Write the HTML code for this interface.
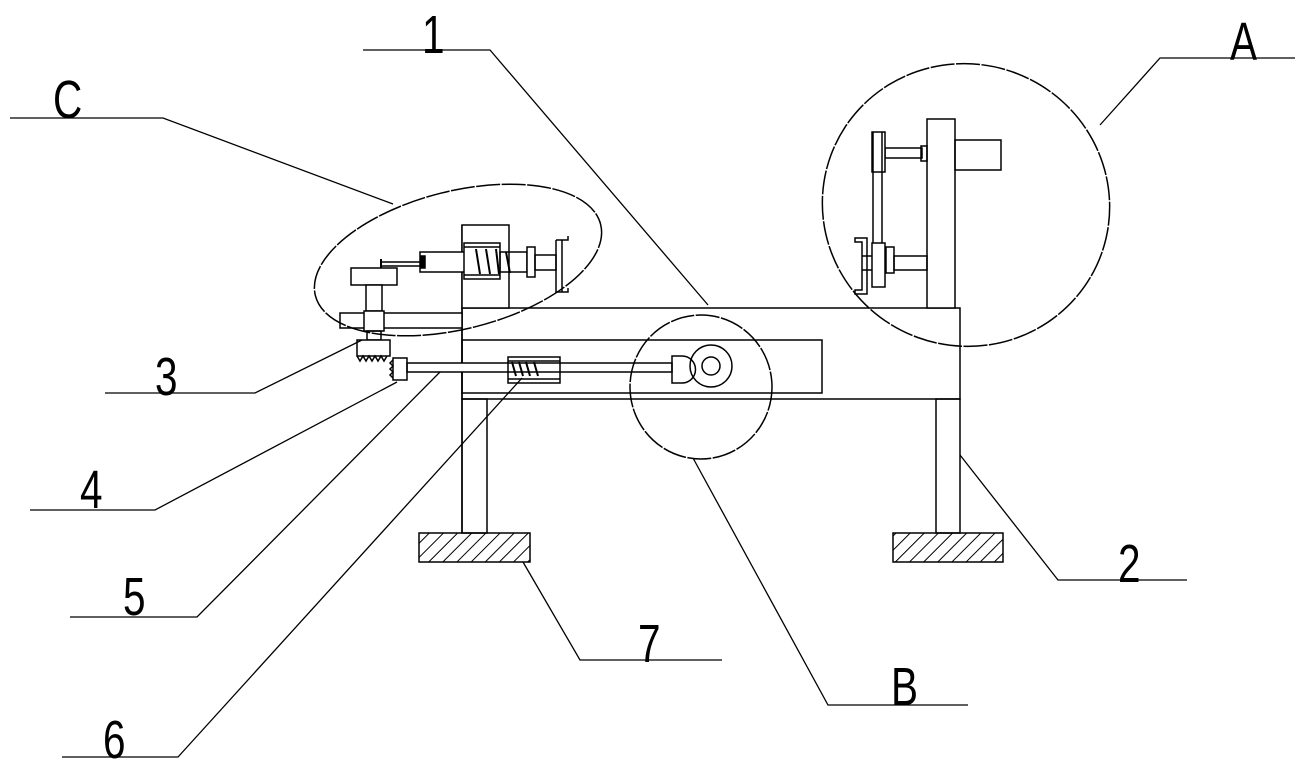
<!DOCTYPE html>
<html><head><style>html,body{margin:0;padding:0;background:#fff}svg{display:block}text{font-family:"Liberation Sans",sans-serif;font-size:54px;fill:#000}</style></head>
<body>
<svg width="1306" height="769" viewBox="0 0 1306 769" xmlns="http://www.w3.org/2000/svg">
<defs>
<pattern id="h" width="10" height="10" patternUnits="userSpaceOnUse" patternTransform="rotate(45)"><line x1="0" y1="0" x2="0" y2="10" stroke="#000" stroke-width="2"/></pattern>
</defs>
<g fill="none" stroke="#000" stroke-width="1.5">
<rect x="462" y="308" width="498" height="91" fill="#fff"/>
<rect x="462" y="340" width="360" height="53"/>
<line x1="462" y1="225" x2="462" y2="533"/>
<rect x="462" y="399" width="25" height="134"/>
<rect x="936" y="399" width="24" height="134"/>
<rect x="419" y="533" width="111" height="29" fill="url(#h)"/>
<rect x="893" y="533" width="110" height="29" fill="url(#h)"/>
<rect x="407" y="363" width="265" height="9" fill="#fff"/>
<rect x="508" y="357" width="52" height="26"/>
<line x1="508" y1="361" x2="560" y2="361"/><line x1="508" y1="379" x2="560" y2="379"/>
<path d="M512 362l4 14M519 362l4 14M526 362l4 14M534 362l4 14" stroke-width="2"/>
<path d="M672 356h10a10 10 0 0 1 0 27h-10z"/>
<circle cx="711" cy="366" r="21"/><circle cx="711" cy="366" r="9"/>
<rect x="393" y="358" width="14" height="22"/>
<rect x="462" y="225" width="47" height="83" fill="#fff"/>
<rect x="420" y="252" width="47" height="20" fill="#fff"/>
<rect x="421" y="256" width="4" height="12" fill="#000"/>
<rect x="464" y="243" width="36" height="36" fill="#fff"/>
<line x1="464" y1="247" x2="500" y2="247"/><line x1="464" y1="275" x2="500" y2="275"/>
<rect x="500" y="252" width="27" height="20"/>
<path d="M476 249l4 25M486 249l4 25M496 249l3 25M506 252l4 21" stroke-width="2"/>
<rect x="527" y="247" width="8" height="30" fill="#fff"/>
<rect x="535" y="255" width="21" height="15"/>
<path d="M556 240h12v-4M556 240v52h12v-4M562 240v52"/>
<path d="M382 262h38M382 266h38"/><path d="M381 259v9" stroke-width="2"/>
<rect x="351" y="268" width="46" height="17" fill="#fff"/>
<rect x="366" y="285" width="16" height="26" fill="#fff"/>
<rect x="340" y="313" width="122" height="15" fill="#fff"/>
<rect x="364" y="311" width="20" height="20" fill="#fff"/>
<rect x="367" y="331" width="14" height="9"/>
<rect x="357" y="340" width="33" height="16" fill="#fff"/>
<path d="M357 356l3 5l3-5l3 5l3-5l3 5l3-5l3 5l3-5l3 5l3-5"/>
<path d="M393 360l-3 3l3 3l-3 3l3 3l-3 3l3 3"/>
<rect x="927" y="119" width="28" height="189" fill="#fff"/>
<rect x="955" y="140" width="46" height="30"/>
<rect x="885" y="148" width="37" height="10"/>
<rect x="921" y="146" width="6" height="15"/>
<rect x="872" y="132" width="13" height="40" fill="#fff"/>
<line x1="873" y1="132" x2="873" y2="287"/><line x1="882" y1="132" x2="882" y2="287"/>
<rect x="872" y="243" width="13" height="44" fill="#fff"/>
<rect x="886" y="247" width="8" height="26"/>
<rect x="894" y="256" width="33" height="14"/>
<path d="M867 238h-12v4h7v48h-7v4h12z"/>
<line x1="862" y1="256" x2="872" y2="256"/><line x1="862" y1="270" x2="872" y2="270"/>
<ellipse cx="458" cy="260" rx="147" ry="69" transform="rotate(-14 458 260)" stroke-dasharray="24 1.5"/>
<ellipse cx="966" cy="205" rx="144" ry="141" transform="rotate(20 966 205)" stroke-dasharray="24 1.5"/>
<ellipse cx="701" cy="387" rx="71" ry="72" stroke-dasharray="24 1.5"/>
</g>
<g fill="none" stroke="#000" stroke-width="1.3">
<polyline points="363,50 490,50 708,305"/>
<polyline points="1295,58 1160,58 1100,125"/>
<polyline points="10,118 163,118 393,204"/>
<polyline points="105,393 255,393 362,340"/>
<polyline points="30,510 155,510 397,382"/>
<polyline points="70,617 197,617 440,372"/>
<polyline points="62,757 178,757 522,378"/>
<polyline points="722,660 580,660 523,562"/>
<polyline points="968,705 828,705 693,458"/>
<polyline points="1187,580 1058,580 960,455"/>
</g>
<g transform="translate(422,53) scale(0.75,1)"><text>1</text></g>
<g transform="translate(1230,60) scale(0.75,1)"><text>A</text></g>
<g transform="translate(53,118) scale(0.75,1)"><text>C</text></g>
<g transform="translate(155,395) scale(0.75,1)"><text>3</text></g>
<g transform="translate(80,508) scale(0.75,1)"><text>4</text></g>
<g transform="translate(123,615) scale(0.75,1)"><text>5</text></g>
<g transform="translate(103,758) scale(0.75,1)"><text>6</text></g>
<g transform="translate(638,662) scale(0.75,1)"><text>7</text></g>
<g transform="translate(891,705) scale(0.75,1)"><text>B</text></g>
<g transform="translate(1118,582) scale(0.75,1)"><text>2</text></g>
</svg>
</body></html>
